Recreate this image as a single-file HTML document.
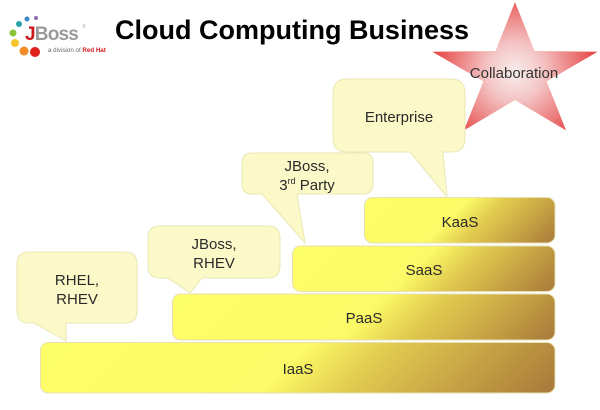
<!DOCTYPE html>
<html>
<head>
<meta charset="utf-8">
<style>
html,body{margin:0;padding:0;background:#fff;}
svg{display:block;}
text{font-family:"Liberation Sans", "DejaVu Sans", sans-serif;}
</style>
</head>
<body>
<svg width="600" height="410" viewBox="0 0 600 410" xmlns="http://www.w3.org/2000/svg">
  <defs>
    <linearGradient id="gI" gradientUnits="userSpaceOnUse" x1="40" y1="342" x2="323" y2="625">
      <stop offset="0" stop-color="#fefe68"/>
      <stop offset="0.48" stop-color="#fcfa66"/>
      <stop offset="0.62" stop-color="#e2cc50"/>
      <stop offset="0.8" stop-color="#c8a444"/>
      <stop offset="1" stop-color="#a8783a"/>
    </linearGradient>
    <linearGradient id="gP" gradientUnits="userSpaceOnUse" x1="172" y1="294" x2="386.5" y2="508.5">
      <stop offset="0" stop-color="#fefe68"/>
      <stop offset="0.5" stop-color="#fcfa66"/>
      <stop offset="0.64" stop-color="#e2cc50"/>
      <stop offset="0.82" stop-color="#c8a444"/>
      <stop offset="1" stop-color="#a8783a"/>
    </linearGradient>
    <linearGradient id="gS" gradientUnits="userSpaceOnUse" x1="292" y1="246" x2="446.5" y2="400.5">
      <stop offset="0" stop-color="#fefe68"/>
      <stop offset="0.47" stop-color="#fcfa66"/>
      <stop offset="0.62" stop-color="#e2cc50"/>
      <stop offset="0.8" stop-color="#c8a444"/>
      <stop offset="1" stop-color="#a8783a"/>
    </linearGradient>
    <linearGradient id="gK" gradientUnits="userSpaceOnUse" x1="364" y1="197" x2="482.5" y2="315.5">
      <stop offset="0" stop-color="#fefe68"/>
      <stop offset="0.45" stop-color="#fcfa66"/>
      <stop offset="0.6" stop-color="#e2cc50"/>
      <stop offset="0.8" stop-color="#c8a444"/>
      <stop offset="1" stop-color="#a8783a"/>
    </linearGradient>
    <radialGradient id="gStar" gradientUnits="userSpaceOnUse" cx="515" cy="72" r="82">
      <stop offset="0" stop-color="#f9eeee"/>
      <stop offset="0.35" stop-color="#f4c4c4"/>
      <stop offset="1" stop-color="#e64646"/>
    </radialGradient>
  </defs>

  <!-- Logo -->
  <circle cx="36" cy="18" r="2" fill="#8a6fb0"/>
  <circle cx="27" cy="19" r="2.5" fill="#3a88c4"/>
  <circle cx="19" cy="24" r="3" fill="#2aa2a8"/>
  <circle cx="13" cy="33" r="3.5" fill="#8cc23c"/>
  <circle cx="15" cy="43" r="4" fill="#f4c82c"/>
  <circle cx="24" cy="51" r="4.5" fill="#f28c28"/>
  <circle cx="35" cy="52" r="5" fill="#e0201c"/>
  <text x="25" y="40" font-size="19" font-weight="bold" letter-spacing="-0.8"><tspan fill="#d0181c">J</tspan><tspan fill="#9a9a9a">Boss</tspan></text>
  <text x="82" y="28" font-size="5" fill="#aaa">®</text>
  <text x="48" y="52" font-size="6.2" fill="#666">a division of <tspan fill="#d0181c" font-weight="bold">Red Hat</tspan></text>

  <!-- Title -->
  <text x="115" y="39" font-size="27" font-weight="bold" fill="#000">Cloud Computing Business</text>

  <!-- Star -->
  <polygon points="515,2 534.5,51 597.7,51.8 546.6,81.4 566.1,130.4 515,100.1 463.9,130.4 483.4,81.4 432.3,51.8 495.5,51" fill="url(#gStar)"/>
  <text x="514" y="78" font-size="15" fill="#333" text-anchor="middle">Collaboration</text>

  <!-- Bars -->
  <rect x="40.5" y="342.5" width="514.5" height="50.5" rx="8" fill="url(#gI)" stroke="#e6e0b0" stroke-width="1"/>
  <rect x="172.5" y="294" width="382.5" height="46" rx="8" fill="url(#gP)" stroke="#e6e0b0" stroke-width="1"/>
  <rect x="292.5" y="246" width="262.5" height="45.5" rx="8" fill="url(#gS)" stroke="#e6e0b0" stroke-width="1"/>
  <rect x="364.5" y="197.5" width="190.5" height="45.5" rx="8" fill="url(#gK)" stroke="#e6e0b0" stroke-width="1"/>
  <text x="298" y="374" font-size="15" fill="#2a2a2a" text-anchor="middle">IaaS</text>
  <text x="364" y="323" font-size="15" fill="#2a2a2a" text-anchor="middle">PaaS</text>
  <text x="424" y="275" font-size="15" fill="#2a2a2a" text-anchor="middle">SaaS</text>
  <text x="460" y="227" font-size="15" fill="#2a2a2a" text-anchor="middle">KaaS</text>

  <!-- Callouts -->
  <path d="M29,252 H125 Q137,252 137,264 V311 Q137,323 125,323 H66 V341 L34,323 H29 Q17,323 17,311 V264 Q17,252 29,252 Z" fill="#fbf9c8" stroke="#ebe6b6" stroke-width="1"/>
  <text x="77" y="285" font-size="15" fill="#2a2a2a" text-anchor="middle">RHEL,</text>
  <text x="77" y="304" font-size="15" fill="#2a2a2a" text-anchor="middle">RHEV</text>

  <path d="M160,226 H268 Q280,226 280,238 V266 Q280,278 268,278 H202 L190,293 L168,278 H160 Q148,278 148,266 V238 Q148,226 160,226 Z" fill="#fbf9c8" stroke="#ebe6b6" stroke-width="1"/>
  <text x="214" y="249" font-size="15" fill="#2a2a2a" text-anchor="middle">JBoss,</text>
  <text x="214" y="268" font-size="15" fill="#2a2a2a" text-anchor="middle">RHEV</text>

  <path d="M252,153 H363 Q373,153 373,163 V184 Q373,194 363,194 H297 L305,243 L262,194 H252 Q242,194 242,184 V163 Q242,153 252,153 Z" fill="#fbf9c8" stroke="#ebe6b6" stroke-width="1"/>
  <text x="307" y="171" font-size="15" fill="#2a2a2a" text-anchor="middle">JBoss,</text>
  <text x="307" y="190" font-size="15" fill="#2a2a2a" text-anchor="middle">3<tspan font-size="9" dy="-6">rd</tspan><tspan dy="6"> Party</tspan></text>

  <path d="M347,79 H451 Q465,79 465,93 V138 Q465,152 451,152 H443 L447,197 L410,152 H347 Q333,152 333,138 V93 Q333,79 347,79 Z" fill="#fbf9c8" stroke="#ebe6b6" stroke-width="1"/>
  <text x="399" y="122" font-size="15" fill="#2a2a2a" text-anchor="middle">Enterprise</text>
</svg>
</body>
</html>
